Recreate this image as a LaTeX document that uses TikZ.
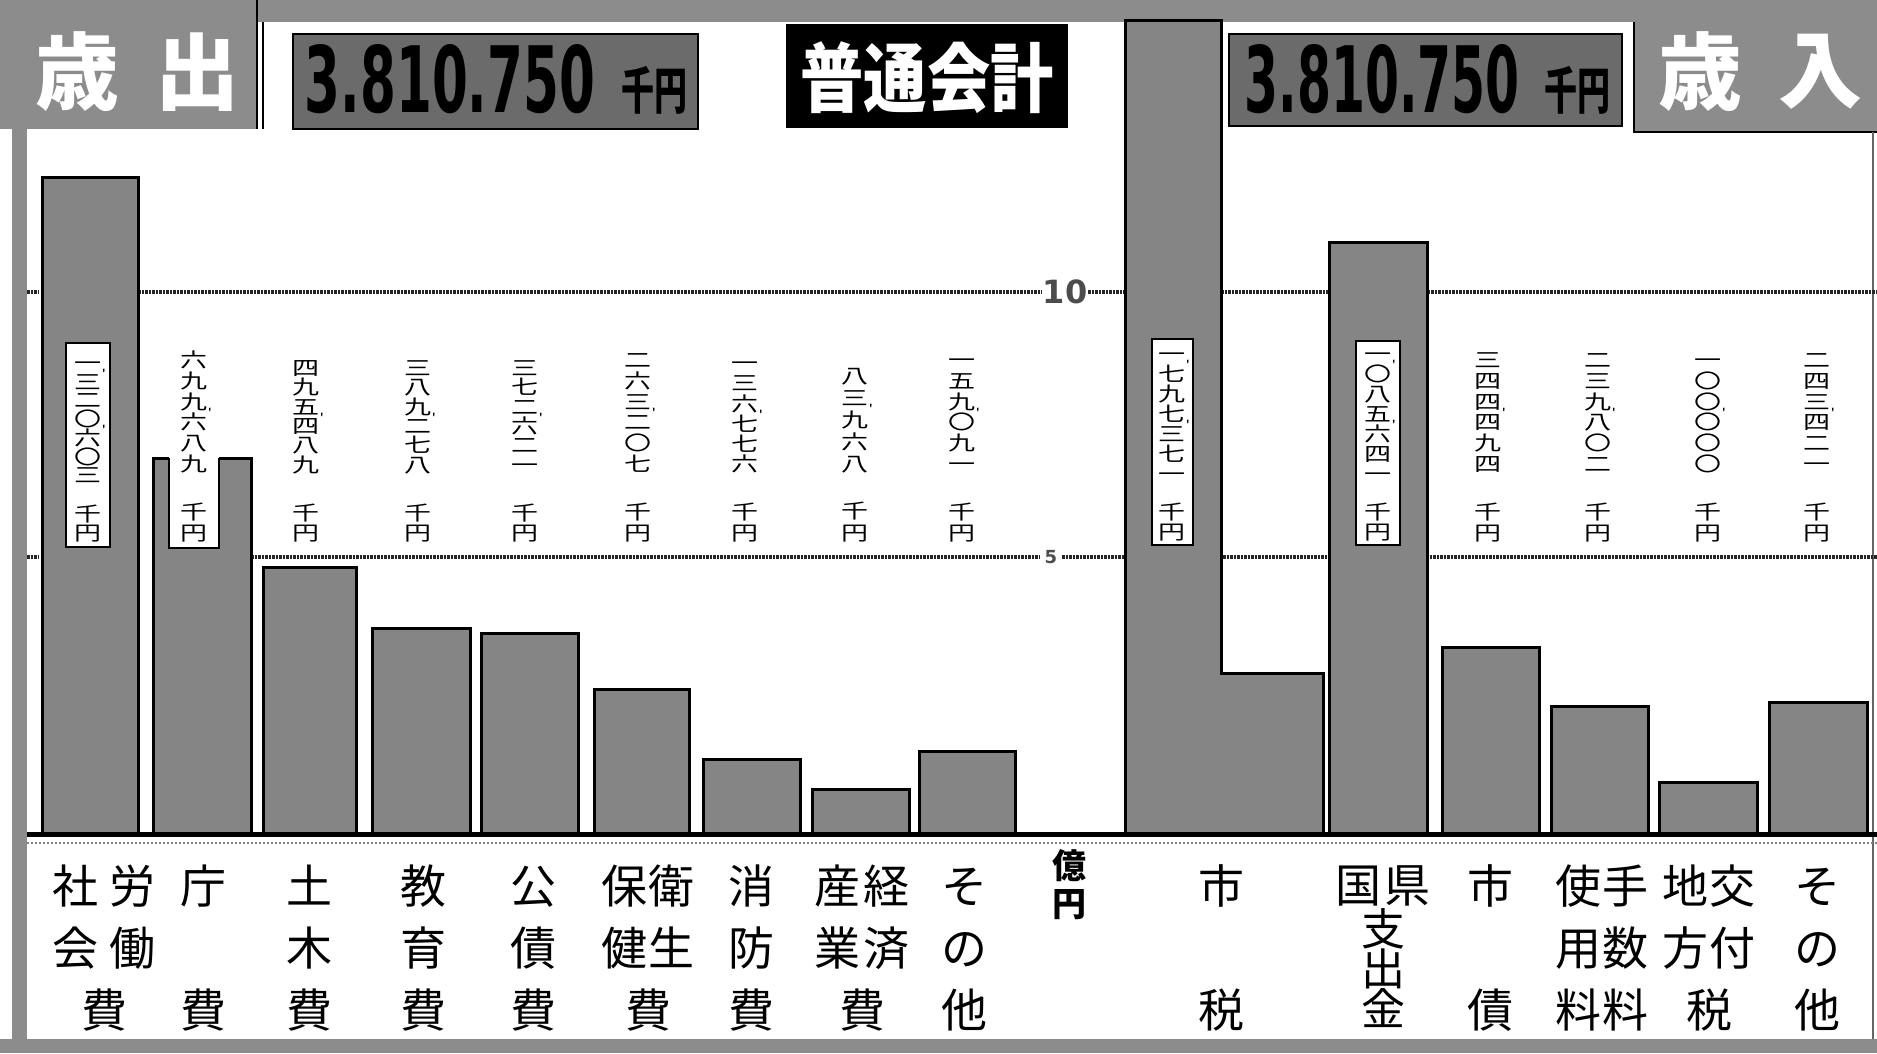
\documentclass[tikz,border=0pt]{standalone}
\usepackage{fontspec}
\usepackage{graphicx}
\setmainfont{DejaVu Sans}
\newfontfamily\jp{Noto Sans CJK JP}
\newcommand\vcomma{\rlap{\raisebox{-8pt}{\fontsize{12}{12}\selectfont '}}}
\newcommand\vtext[3]{\scalebox{1.35}[1]{\parbox{22pt}{\centering\baselineskip=#1\lineskiplimit=-30pt\lineskip=0pt #2\\[#3]千\\円}}}
\begin{document}
\begin{tikzpicture}[x=1pt,y=-1pt,
  bar/.style={draw=black,line width=3pt,fill=black!48},
  band/.style={fill=black!45,draw=none},
  numbox/.style={fill=black!58,draw=black,line width=1.5pt},
  gridln/.style={draw=black!85,line width=3.5pt,dash pattern=on 2.5pt off 1pt},
  lbox/.style={fill=white,draw=black,line width=2pt},
  vnum/.style={font=\jp\fontsize{20}{20}\selectfont,inner sep=0pt,anchor=south},
  blab/.style={font=\jp\fontsize{46}{62}\selectfont,inner sep=0pt},
  title/.style={font=\jp\bfseries\fontsize{84}{84}\selectfont,text=white,inner sep=0pt},
]
\useasboundingbox (0,0) rectangle (1877,1053);
\fill[white] (0,0) rectangle (1877,1053);
% frame bands
\fill[band] (0,0) rectangle (1877,22);
\fill[band] (0,0) rectangle (256,129);
\draw[black,line width=1.5pt] (257,0) -- (257,129);
\draw[black,line width=1.5pt] (263,22) -- (263,129);
\fill[band] (1634,0) rectangle (1877,132);
\draw[black,line width=1.5pt] (1634,22) -- (1634,132) -- (1877,132);
\fill[band] (12,129) rectangle (27,1040);
\fill[band] (0,1039) rectangle (1877,1053);
\draw[black!60,line width=1.5pt] (1873,132) -- (1873,1039);
% titles
\node[title] (sai1) at (77,72) {歳};
\node[title] (shutsu) at (197,72) {出};
\node[title] (sai2) at (1700,72) {歳};
\node[title] (nyu) at (1820,72) {入};
% header number boxes
\draw[numbox] (293,34) rectangle (698,129);
\node[inner sep=0pt] (lnum) at (450,79) {\resizebox{290pt}{68pt}{\bfseries 3.810.750}};
\node[inner sep=0pt] (lunit) at (654,90) {\resizebox*{66pt}{48pt}{\jp\bfseries 千円}};
\fill[black] (786,24) rectangle (1068,128);
\node[inner sep=0pt,text=white] (futsu) at (927,78) {\resizebox*{253pt}{72pt}{\jp\bfseries 普通会計}};
\draw[numbox] (1229,34) rectangle (1622,126);
\node[inner sep=0pt] (rnum) at (1382,79) {\resizebox{275pt}{68pt}{\bfseries 3.810.750}};
\node[inner sep=0pt] (runit) at (1577,90) {\resizebox*{66pt}{48pt}{\jp\bfseries 千円}};
% grid lines
\draw[gridln] (27,292) -- (38,292);
\draw[gridln] (138,292) -- (1042,292);
\draw[gridln] (1088,292) -- (1877,292);
\node[font=\bfseries\fontsize{32}{32}\selectfont,text=black!70,inner sep=0pt] (ten) at (1065,292) {10};
\draw[gridln] (27,557) -- (38,557);
\draw[gridln] (251,557) -- (1040,557);
\draw[gridln] (1062,557) -- (1877,557);
\node[font=\bfseries\fontsize{18}{18}\selectfont,text=black!70,inner sep=0pt] (five) at (1051,557) {5};
% expenditure bars
\draw[bar] (42,177) rectangle (138,834);
\draw[bar] (153,458) rectangle (251,834);
\draw[bar] (263,567) rectangle (356,834);
\draw[bar] (372,628) rectangle (470,834);
\draw[bar] (481,633) rectangle (578,834);
\draw[bar] (594,689) rectangle (689,834);
\draw[bar] (703,759) rectangle (800,834);
\draw[bar] (812,789) rectangle (909,834);
\draw[bar] (919,751) rectangle (1015,834);
% revenue bars
\draw[bar] (1125,20) -- (1221,20) -- (1221,673) -- (1323,673) -- (1323,834) -- (1125,834) -- cycle;
\draw[bar] (1329,242) rectangle (1427,834);
\draw[bar] (1442,647) rectangle (1539,834);
\draw[bar] (1551,706) rectangle (1648,834);
\draw[bar] (1659,782) rectangle (1757,834);
\draw[bar] (1769,702) rectangle (1867,834);
% baseline
\draw[black,line width=5pt] (27,834) -- (1877,834);
\draw[black!50,line width=1.5pt,dash pattern=on 2pt off 2pt] (27,843) -- (1877,843);
% label boxes
\draw[lbox] (66,343) rectangle (110,547);
\fill[white] (169,455) rectangle (219,548);
\draw[black,line width=2pt] (169,458) -- (169,548) -- (219,548) -- (219,458);
\draw[lbox] (1152,339) rectangle (1193,545);
\draw[lbox] (1356,341) rectangle (1400,545);
% value labels
\node[vnum] (e1) at (88,542) {\vtext{18.7pt}{一\vcomma\\三\\二\\〇\vcomma\\六\\〇\\三}{20pt}};
\node[vnum] (e2) at (194,542) {\vtext{20.8pt}{六\\九\\九\vcomma\\六\\八\\九}{27pt}};
\node[vnum] (e3) at (306,542) {\vtext{19.4pt}{四\\九\\五\vcomma\\四\\八\\九}{29pt}};
\node[vnum] (e4) at (418,542) {\vtext{19.4pt}{三\\八\\九\vcomma\\二\\七\\八}{29pt}};
\node[vnum] (e5) at (525,542) {\vtext{19.4pt}{三\\七\\二\vcomma\\六\\二\\一}{29pt}};
\node[vnum] (e6) at (638,542) {\vtext{20.8pt}{二\\六\\三\vcomma\\二\\〇\\七}{27pt}};
\node[vnum] (e7) at (745,542) {\vtext{20.2pt}{一\\三\\六\vcomma\\七\\七\\六}{28pt}};
\node[vnum] (e8) at (855,542) {\vtext{22pt}{八\\三\vcomma\\九\\六\\八}{25pt}};
\node[vnum] (e9) at (962,542) {\vtext{20.8pt}{一\\五\\九\vcomma\\〇\\九\\一}{27pt}};
\node[vnum] (r1) at (1172,541) {\vtext{20pt}{一\vcomma\\七\\九\\七\vcomma\\三\\七\\一}{18pt}};
\node[vnum] (r2) at (1378,541) {\vtext{20pt}{一\vcomma\\〇\\八\\五\vcomma\\六\\四\\一}{18pt}};
\node[vnum] (r3) at (1488,542) {\vtext{20.8pt}{三\\四\\四\vcomma\\四\\九\\四}{27pt}};
\node[vnum] (r4) at (1598,542) {\vtext{20.8pt}{二\\三\\九\vcomma\\八\\〇\\二}{27pt}};
\node[vnum] (r5) at (1708,542) {\vtext{20.8pt}{一\\〇\\〇\vcomma\\〇\\〇\\〇}{27pt}};
\node[vnum] (r6) at (1817,542) {\vtext{20.8pt}{二\\四\\三\vcomma\\四\\二\\一}{27pt}};
% category labels
\node[blab] (lsoc) at (104,953) {\begin{tabular}{@{}c@{\hspace{12pt}}c@{}}社&労\\会&働\\\multicolumn{2}{c}{費}\end{tabular}};
\node[blab] (lcho) at (203,953) {\begin{tabular}{@{}c@{}}庁\\{}\\費\end{tabular}};
\node[blab] (ldob) at (309,953) {\begin{tabular}{@{}c@{}}土\\木\\費\end{tabular}};
\node[blab] (lkyo) at (423,953) {\begin{tabular}{@{}c@{}}教\\育\\費\end{tabular}};
\node[blab] (lkos) at (533,953) {\begin{tabular}{@{}c@{}}公\\債\\費\end{tabular}};
\node[blab] (lhok) at (648,953) {\begin{tabular}{@{}c@{\hspace{2pt}}c@{}}保&衛\\健&生\\\multicolumn{2}{c}{費}\end{tabular}};
\node[blab] (lsho) at (751,953) {\begin{tabular}{@{}c@{}}消\\防\\費\end{tabular}};
\node[blab] (lkei) at (862,953) {\begin{tabular}{@{}c@{\hspace{4pt}}c@{}}産&経\\業&済\\\multicolumn{2}{c}{費}\end{tabular}};
\node[blab] (lsot1) at (964,953) {\begin{tabular}{@{}c@{}}そ\\の\\他\end{tabular}};
\node[font=\jp\bfseries\fontsize{34}{38}\selectfont,align=center,inner sep=0pt] (oku) at (1069,885) {億\\円};
\node[blab] (lshz) at (1221,953) {\begin{tabular}{@{}c@{}}市\\{}\\税\end{tabular}};
\node[blab] (lkok) at (1383,886) {国\hspace{4pt}県};
\node[font={\jp\fontsize{44}{40}\selectfont\lineskiplimit=-30pt},align=center,inner sep=0pt] (lshi) at (1383,968) {支\\出\\金};
\node[blab] (lsai) at (1490,953) {\begin{tabular}{@{}c@{}}市\\{}\\債\end{tabular}};
\node[blab] (lshy) at (1602,953) {\begin{tabular}{@{}c@{\hspace{2pt}}c@{}}使&手\\用&数\\料&料\end{tabular}};
\node[blab] (lchi) at (1709,953) {\begin{tabular}{@{}c@{\hspace{2pt}}c@{}}地&交\\方&付\\\multicolumn{2}{c}{税}\end{tabular}};
\node[blab] (lsot2) at (1817,953) {\begin{tabular}{@{}c@{}}そ\\の\\他\end{tabular}};
\end{tikzpicture}
\end{document}
